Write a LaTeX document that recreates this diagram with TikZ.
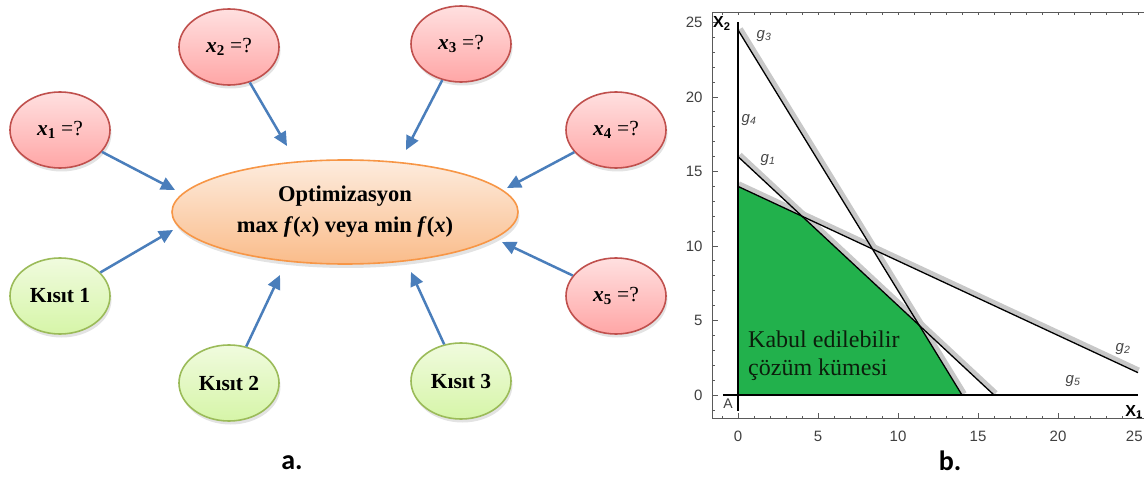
\documentclass[tikz,border=0pt]{standalone}
\usepackage{fontspec}
\setmainfont{Liberation Serif}
\newfontfamily\plotfont{Liberation Sans}
\newfontfamily\calfont{Carlito}
\usetikzlibrary{shapes.geometric,arrows.meta,shadows}
\definecolor{arrowblue}{RGB}{74,126,187}
\definecolor{redborder}{RGB}{192,80,77}
\definecolor{redtop}{RGB}{255,224,224}
\definecolor{redbot}{RGB}{255,166,166}
\definecolor{greenborder}{RGB}{155,187,89}
\definecolor{greentop}{RGB}{240,251,222}
\definecolor{greenbot}{RGB}{214,245,168}
\definecolor{orangeborder}{RGB}{247,150,70}
\definecolor{orangetop}{RGB}{253,236,222}
\definecolor{orangebot}{RGB}{250,188,138}
\definecolor{feasgreen}{RGB}{34,177,76}
\definecolor{bandgray}{RGB}{200,200,200}
\definecolor{framegray}{RGB}{90,90,90}
\definecolor{labelgray}{RGB}{70,70,70}
\definecolor{kabultext}{RGB}{12,30,12}
\tikzset{
  bubble/.style={ellipse, minimum width=100pt, minimum height=76pt, inner sep=0pt,
    line width=1.6pt, drop shadow={shadow xshift=1.5pt, shadow yshift=-3.5pt, opacity=0.22},
    font=\fontsize{21.5}{24}\selectfont},
  varnode/.style={bubble, draw=redborder, top color=redtop, bottom color=redbot},
  consnode/.style={bubble, draw=greenborder, top color=greentop, bottom color=greenbot},
  mainnode/.style={ellipse, minimum width=346pt, minimum height=104pt, inner sep=0pt,
    line width=1.6pt, draw=orangeborder, top color=orangetop, bottom color=orangebot,
    drop shadow={shadow xshift=1.5pt, shadow yshift=-4pt, opacity=0.22},
    align=center, font=\bfseries\fontsize{22.5}{31}\selectfont},
  bluearrow/.style={draw=arrowblue, line width=2.5pt, -{Triangle[length=14pt,width=13pt]}},
  band/.style={draw=bandgray, line width=5pt},
  gline/.style={draw=black, line width=1.3pt},
  frameline/.style={draw=framegray, line width=0.8pt},
  ticklab/.style={font=\plotfont\fontsize{15}{15}\selectfont, text=black!75},
  glab/.style={font=\plotfont\itshape\fontsize{15}{15}\selectfont, text=labelgray},
}
\begin{document}
\begin{tikzpicture}[x=1pt,y=-1pt]
\clip (0,0) rectangle (1144,481);
\fill[white] (0,0) rectangle (1144,481);

% ---------- panel a ----------
\node[varnode] (x1) at (60,130) {\textbf{\textit{x}\textsubscript{\upshape 1}} =?};
\node[varnode] (x2) at (229,47) {\textbf{\textit{x}\textsubscript{\upshape 2}} =?};
\node[varnode] (x3) at (461,44) {\textbf{\textit{x}\textsubscript{\upshape 3}} =?};
\node[varnode] (x4) at (616,130) {\textbf{\textit{x}\textsubscript{\upshape 4}} =?};
\node[varnode] (x5) at (616,296) {\textbf{\textit{x}\textsubscript{\upshape 5}} =?};
\node[consnode] (k1) at (60,296) {\textbf{Kısıt 1}};
\node[consnode] (k2) at (229,383) {\textbf{Kısıt 2}};
\node[consnode] (k3) at (461,381) {\textbf{Kısıt 3}};
\node[mainnode] (opt) at (345,212) {Optimizasyon\\max \textit{f}(\textit{x}) veya min \textit{f}(\textit{x})};

\coordinate (t1) at (175,190);
\coordinate (t2) at (287,146);
\coordinate (t3) at (406,150);
\coordinate (t4) at (507,188);
\coordinate (t5) at (502,242);
\coordinate (tk1) at (173,230);
\coordinate (tk2) at (280,275);
\coordinate (tk3) at (411,272);
\draw[bluearrow] (x1) -- (t1);
\draw[bluearrow] (x2) -- (t2);
\draw[bluearrow] (x3) -- (t3);
\draw[bluearrow] (x4) -- (t4);
\draw[bluearrow] (x5) -- (t5);
\draw[bluearrow] (k1) -- (tk1);
\draw[bluearrow] (k2) -- (tk2);
\draw[bluearrow] (k3) -- (tk3);

\node[font=\calfont\bfseries\fontsize{28}{28}\selectfont] (la) at (292,463) {a.};
\node[font=\calfont\bfseries\fontsize{28}{28}\selectfont] (lb) at (950,461) {b.};

% ---------- panel b ----------
\begin{scope}[shift={(738,395)}, x=16pt, y=14.9pt]
  \fill[feasgreen] (0,0) -- (0,14) -- (4,12) -- (34/3,14/3) -- (14,0) -- cycle;
  % frame
  \draw[frameline] (26,25.7) -- (-1.625,25.7) -- (-1.625,-1.6) -- (26,-1.6);
  \foreach \k in {-1,...,25} {
    \draw[frameline] (-1.625,\k) -- ++(3pt,0);
    \draw[frameline] (\k,-1.6) -- ++(0,3pt);
    \draw[frameline] (\k,25.7) -- ++(0,-3pt);
  }
  \foreach \k in {0,5,...,25} {
    \draw[frameline] (-1.625,\k) -- ++(6pt,0);
    \draw[frameline] (\k,-1.6) -- ++(0,6pt);
    \node[ticklab, anchor=east] at (-2.0,\k) {\k};
  }
  \foreach \k in {0,5,...,20} {
    \node[ticklab] at (\k,-2.8) {\k};
  }
  \node[ticklab, anchor=east, inner sep=0pt] at (25.3,-2.8) {25};
  % bands
  \begin{scope}[xshift=1.9pt, yshift=1.9pt]
    \draw[band] (0,16) -- (16,0);
  \end{scope}
  \begin{scope}[xshift=0.8pt, yshift=2.6pt]
    \draw[band] (0,14) -- (25,1.5);
  \end{scope}
  \begin{scope}[xshift=2.4pt, yshift=1.3pt]
    \draw[band] (0,24.5) -- (14,0);
  \end{scope}
  % constraint lines
  \draw[gline] (0,16) -- (16,0);
  \draw[gline] (0,14) -- (25,1.5);
  \draw[gline] (0,24.5) -- (14,0);
  % axes
  \draw[line width=1.8pt] (-0.95,0) -- (25,0);
  \draw[line width=1.5pt] (0,-1.05) -- (0,25);
\end{scope}

\node[font=\plotfont\bfseries\fontsize{16}{16}\selectfont, anchor=base west, inner sep=0pt] (X2) at (713,28) {X\textsubscript{2}};
\node[font=\plotfont\bfseries\fontsize{16}{16}\selectfont, anchor=base east, inner sep=0pt] (X1) at (1143,416) {X\textsubscript{1}};
\node[font=\plotfont\fontsize{14}{14}\selectfont, text=black!75] (A) at (728,404) {A};
\node[glab] (g3) at (764,36) {g\textsubscript{3}};
\node[glab] (g4) at (749,120) {g\textsubscript{4}};
\node[glab] (g1) at (768,160) {g\textsubscript{1}};
\node[glab] (g2) at (1123,349) {g\textsubscript{2}};
\node[glab] (g5) at (1073,381) {g\textsubscript{5}};
\node[font=\fontsize{24}{24}\selectfont, text=kabultext, anchor=base west, inner sep=0pt] (kab1) at (748,347) {Kabul edilebilir};
\node[font=\fontsize{24}{24}\selectfont, text=kabultext, anchor=base west, inner sep=0pt] (kab2) at (748,375) {çözüm kümesi};
\end{tikzpicture}
\end{document}
